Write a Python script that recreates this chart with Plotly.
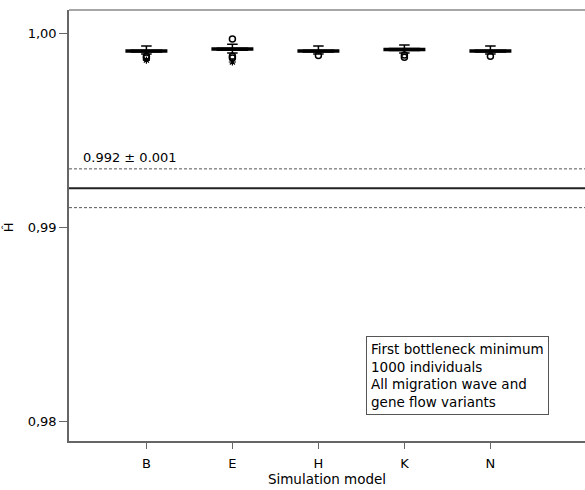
import plotly.graph_objects as go

models = ["B", "E", "H", "K", "N"]
upper_fence = [0.99933, 0.99942, 0.99933, 0.99938, 0.99933]
q3 = [0.99912, 0.99922, 0.99912, 0.99920, 0.99912]
median = [0.99907, 0.99918, 0.99907, 0.99915, 0.99907]
q1 = [0.99902, 0.99912, 0.99902, 0.99910, 0.99902]
lower_fence = [0.99892, 0.99897, 0.99892, 0.99897, 0.99892]

circle_x = ["B", "B", "E", "E", "E", "H", "K", "K", "N"]
circle_y = [0.99881, 0.99871, 0.99969, 0.99881, 0.99871, 0.99884, 0.99887, 0.99876, 0.99881]
star_x = ["B", "E"]
star_y = [0.99861, 0.99851]

ref_mean = 0.992
ref_sd = 0.001
ref_label = "0.992 ± 0.001"

y_ticks = [0.98, 0.99, 1.00]
y_ticktext = ["0,98", "0,99", "1,00"]

note = "First bottleneck minimum<br>1000 individuals<br>All migration wave and<br>gene flow variants"

FONT = "DejaVu Sans, Verdana, sans-serif"

fig = go.Figure()
fig.add_trace(go.Box(
    x=models, q1=q1, median=median, q3=q3,
    lowerfence=lower_fence, upperfence=upper_fence,
    fillcolor="white", line=dict(color="black", width=1.5),
    width=0.35, whiskerwidth=0.35, boxpoints=False, showlegend=False,
))
fig.add_trace(go.Scatter(
    x=models, y=median, mode="markers", showlegend=False,
    marker=dict(symbol="line-ew", size=30, line=dict(color="black", width=3.5)),
))
fig.add_trace(go.Scatter(
    x=circle_x, y=circle_y, mode="markers", showlegend=False,
    marker=dict(symbol="circle-open", size=6, color="black", line=dict(width=1.5)),
))
fig.add_trace(go.Scatter(
    x=star_x, y=star_y, mode="markers", showlegend=False,
    marker=dict(symbol="asterisk-open", size=6, color="black", line=dict(width=1.2)),
))

fig.add_shape(type="line", xref="paper", yref="y", x0=0, x1=1, y0=ref_mean, y1=ref_mean,
              line=dict(color="#222222", width=2))
for v in (ref_mean + ref_sd, ref_mean - ref_sd):
    fig.add_shape(type="line", xref="paper", yref="y", x0=0, x1=1, y0=v, y1=v,
                  line=dict(color="#555555", width=1, dash="3px,2px"))
fig.add_shape(type="line", xref="paper", yref="paper", x0=0, x1=1, y0=1, y1=1,
              line=dict(color="#888888", width=1.5))

fig.add_annotation(xref="paper", yref="y", x=0.024, y=ref_mean + ref_sd + 0.00058,
                   text=ref_label, showarrow=False, xanchor="left", yanchor="middle",
                   font=dict(family=FONT, size=13, color="black"))
fig.add_annotation(xref="paper", yref="paper", x=0.575, y=0.244, text=note,
                   showarrow=False, xanchor="left", yanchor="top", align="left",
                   bordercolor="#555555", borderwidth=1, borderpad=4,
                   font=dict(family=FONT, size=13.5, color="black"))
fig.add_annotation(xref="paper", yref="y", x=-0.118, y=0.99, text="Ĥ",
                   textangle=-90, showarrow=False, xanchor="center", yanchor="middle",
                   font=dict(family=FONT, size=13, color="black"))

fig.update_layout(
    width=585, height=490,
    margin=dict(l=69, r=0, t=10, b=49),
    plot_bgcolor="white", paper_bgcolor="white",
    font=dict(family=FONT, size=13, color="black"),
    xaxis=dict(
        type="category", categoryorder="array", categoryarray=models,
        range=[-0.9, 5.1], showline=True, linecolor="#666666", linewidth=1.5,
        ticks="outside", ticklen=6, tickcolor="#666666", showgrid=False,
        tickfont=dict(size=13), zeroline=False, ticklabelstandoff=4,
        title=dict(text="Simulation model", font=dict(size=13.5), standoff=2),
    ),
    yaxis=dict(
        range=[0.97897, 1.00119], tickvals=y_ticks, ticktext=y_ticktext,
        showline=True, linecolor="#666666", linewidth=1.5,
        ticks="outside", ticklen=8, tickcolor="#666666", showgrid=False,
        zeroline=False, tickfont=dict(size=13),
    ),
)

fig.write_html("out.html")
